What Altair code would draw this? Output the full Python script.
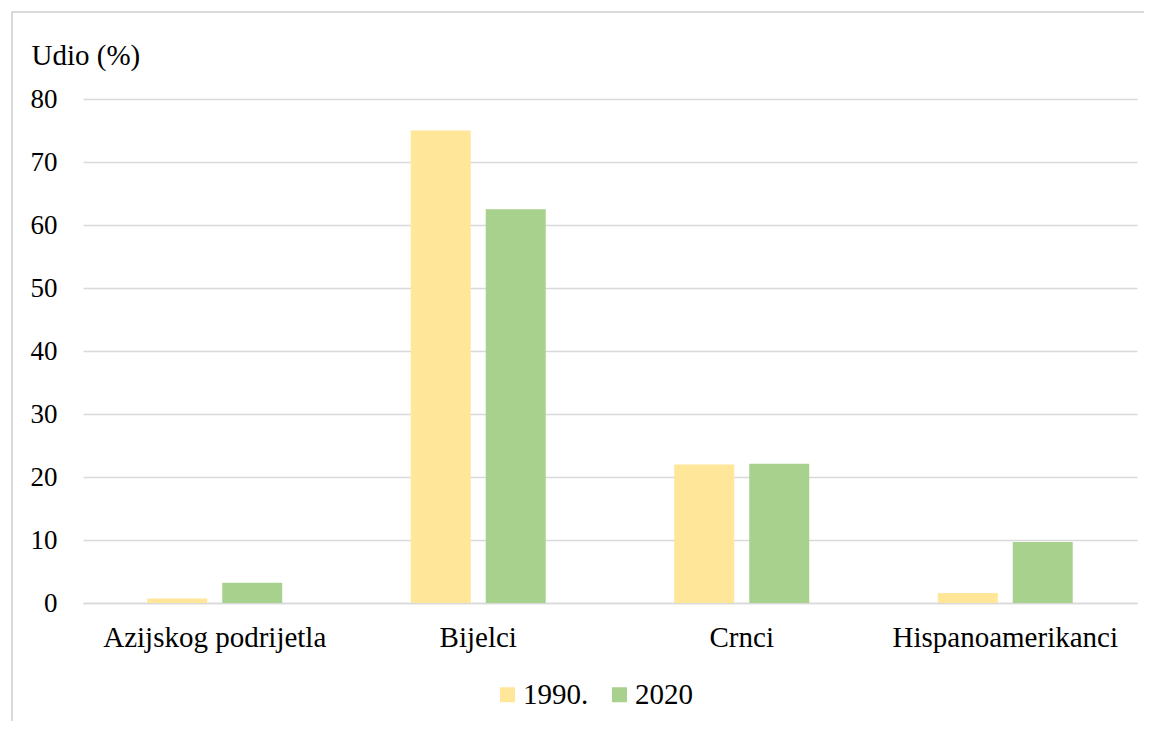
import altair as alt
import pandas as pd

categories = ["Azijskog podrijetla", "Bijelci", "Crnci", "Hispanoamerikanci"]
years = ["1990.", "2020"]
values_1990 = [0.7, 75.0, 22.0, 1.6]
values_2020 = [3.2, 62.5, 22.1, 9.7]
colors = ["#FFE699", "#A9D18E"]
y_ticks = [0, 10, 20, 30, 40, 50, 60, 70, 80]

rows = []
for c, a, b in zip(categories, values_1990, values_2020):
    rows.append({"kategorija": c, "godina": years[0], "udio": a})
    rows.append({"kategorija": c, "godina": years[1], "udio": b})
df = pd.DataFrame(rows)

FONT = "Liberation Serif"
GRID = "#D9D9D9"

bars = alt.Chart(df).mark_bar().encode(
    x=alt.X(
        "kategorija:N",
        sort=categories,
        scale=alt.Scale(paddingInner=0, paddingOuter=0),
        axis=alt.Axis(
            title=None,
            labelAngle=0,
            labelFont=FONT,
            labelFontSize=29,
            labelColor="#000000",
            labelPadding=20,
            labelBaseline="top",
            labelLimit=0,
            ticks=False,
            tickSize=0,
            domain=True,
            domainColor=GRID,
            domainWidth=1.5,
            grid=False,
        ),
    ),
    xOffset=alt.XOffset(
        "godina:N",
        sort=years,
        scale=alt.Scale(paddingInner=0.2, paddingOuter=0.857),
    ),
    y=alt.Y(
        "udio:Q",
        scale=alt.Scale(domain=[0, 80], nice=False),
        axis=alt.Axis(
            values=y_ticks,
            title="Udio (%)",
            titleFont=FONT,
            titleFontSize=29,
            titleFontWeight="normal",
            titleColor="#000000",
            titleAngle=0,
            titleAlign="left",
            titleBaseline="alphabetic",
            titleX=-52,
            titleY=-35,
            labelFont=FONT,
            labelFontSize=27,
            labelColor="#000000",
            labelPadding=26,
            ticks=False,
            tickSize=0,
            domain=False,
            grid=True,
            gridColor=GRID,
            gridWidth=1.5,
        ),
    ),
    color=alt.Color(
        "godina:N",
        sort=years,
        scale=alt.Scale(domain=years, range=colors),
        legend=alt.Legend(
            title=None,
            orient="none",
            legendX=410,
            legendY=581,
            direction="horizontal",
            symbolType="square",
            symbolSize=225,
            symbolStrokeWidth=0,
            labelFont=FONT,
            labelFontSize=29,
            labelColor="#000000",
            labelOffset=1,
            columnPadding=16,
            padding=0,
        ),
    ),
)

frame_df = pd.DataFrame({"f": [0]})
top_border = alt.Chart(frame_df).mark_rule(stroke=GRID, strokeWidth=2).encode(
    x=alt.value(-72),
    x2=alt.value(1300),
    y=alt.value(-87),
)
left_border = alt.Chart(frame_df).mark_rule(stroke=GRID, strokeWidth=2).encode(
    x=alt.value(-71),
    y=alt.value(-88),
    y2=alt.value(900),
)

chart = (
    alt.layer(top_border, left_border, bars)
    .properties(
        width=1054,
        height=504,
        autosize=alt.AutoSizeParams(type="none"),
        padding={"left": 75, "top": 91, "right": 7, "bottom": 118},
    )
    .configure(background="#FFFFFF", font=FONT)
    .configure_view(strokeWidth=0)
)

chart.save("out.html", embed_options={"renderer": "svg", "actions": False})
